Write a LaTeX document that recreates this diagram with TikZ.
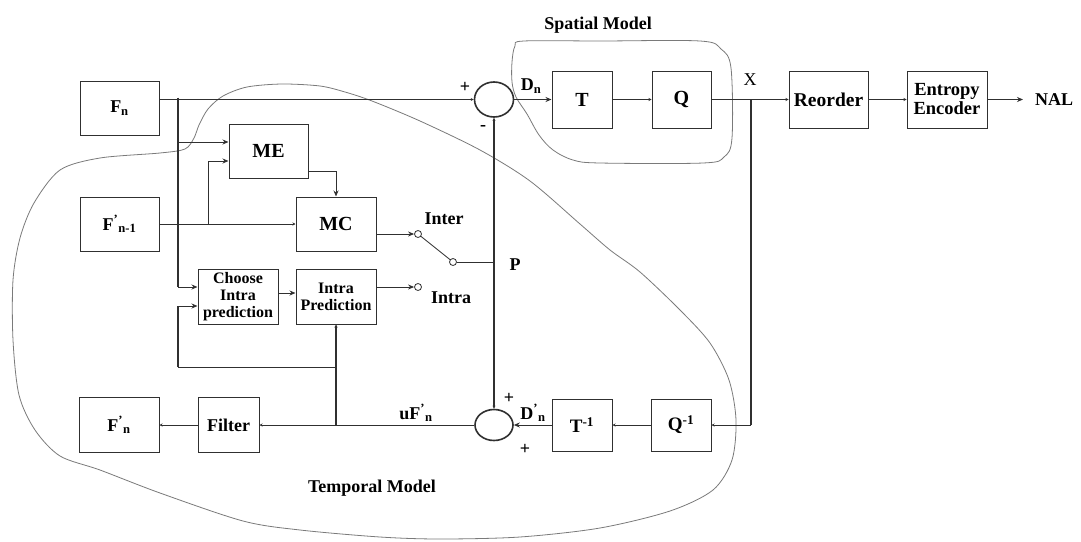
\documentclass[tikz,border=0pt]{standalone}
\usepackage{fontspec}
\setmainfont{Liberation Serif}
\usetikzlibrary{arrows.meta,shapes.geometric,calc}
\definecolor{lin}{HTML}{303030}
\definecolor{cont}{HTML}{7A7A7A}
\begin{document}
\begin{tikzpicture}[x=1pt,y=-1pt,
  box/.style={draw=lin,line width=1pt,inner sep=0pt,align=center,font=\bfseries\fontsize{18}{20}\selectfont},
  ln/.style={draw=lin,line width=1pt},
  thk/.style={draw=lin,line width=1.8pt},
  arr/.style={-{Stealth[length=6pt,width=5pt]}},
  sarr/.style={-{Stealth[length=3pt,width=3pt]}},
  sw/.style={circle,draw=lin,line width=0.8pt,minimum size=7pt,inner sep=0pt},
  sum/.style={ellipse,draw=lin,line width=1.6pt,inner sep=0pt},
  lbl/.style={font=\bfseries\fontsize{18}{20}\selectfont,inner sep=0pt},
  cont/.style={draw=cont,line width=0.8pt}
]
\fill[white] (0,0) rectangle (1081,541);
\useasboundingbox (0,0) rectangle (1081,541);

% contours
\draw[cont] plot[smooth cycle,tension=0.55] coordinates {
 (512,62) (515,46) (524,41) (600,41) (700,41) (721,49) (731,68) (732,138) (724,157) (703,163)
 (600,163) (573,160) (553,150) (539,135) (527,114) (516,97) (512,82)};
\draw[cont] plot[smooth cycle,tension=0.5] coordinates {
 (60,170) (100,158) (160,153) (185,149) (194,138) (199,125) (208,109) (223,96) (247,87) (282,84)
 (320,86) (345,92) (372,101) (420,121) (480,150) (530,181) (580,224) (610,250) (640,272)
 (680,310) (710,343) (729,380) (736,420) (732,460) (713,490) (670,511) (600,528) (520,537)
 (440,539) (380,537) (300,530) (243,521) (160,493) (100,470) (60,456) (35,430) (19,395)
 (13,340) (13,280) (20,238) (34,203)};

% boxes
\node[box,minimum width=79pt,minimum height=54pt] (Fn) at (119.5,108) {F\textsubscript{n}};
\node[box,minimum width=79pt,minimum height=54pt,font=\bfseries\fontsize{20}{22}\selectfont] (ME) at (268.5,151) {ME};
\node[box,minimum width=79pt,minimum height=54pt] (Fn1) at (119.5,224) {F\textsuperscript{'}\textsubscript{n-1}};
\node[box,minimum width=80pt,minimum height=54pt,font=\bfseries\fontsize{20}{22}\selectfont] (MC) at (336,224) {MC};
\node[box,minimum width=80pt,minimum height=55pt,font=\bfseries\fontsize{16}{17}\selectfont] (Choose) at (238,296.5) {Choose\\Intra\\prediction};
\node[box,minimum width=80pt,minimum height=55pt,font=\bfseries\fontsize{16}{17}\selectfont] (IntraP) at (336,296.5) {Intra\\Prediction};
\node[box,minimum width=80pt,minimum height=55pt] (Fnp) at (119,425) {F\textsuperscript{'}\textsubscript{n}};
\node[box,minimum width=61pt,minimum height=55pt] (Filter) at (228.5,425) {Filter};
\node[box,minimum width=60pt,minimum height=57pt,font=\bfseries\fontsize{20}{22}\selectfont] (T) at (582,99.5) {T};
\node[box,minimum width=59pt,minimum height=57pt,font=\bfseries\fontsize{20}{22}\selectfont] (Q) at (681.5,99.5) {Q};
\node[box,minimum width=79pt,minimum height=57pt,font=\bfseries\fontsize{19.5}{21}\selectfont] (Reorder) at (828.5,99.5) {Reorder};
\node[box,minimum width=80pt,minimum height=57pt,font=\bfseries\fontsize{18.5}{19}\selectfont] (Entropy) at (947,99.5) {Entropy\\Encoder};
\node[box,minimum width=60pt,minimum height=52pt,font=\bfseries\fontsize{19}{21}\selectfont] (Tinv) at (582,425) {T\textsuperscript{-1}};
\node[box,minimum width=60pt,minimum height=52pt,font=\bfseries\fontsize{19}{21}\selectfont] (Qinv) at (681,425) {Q\textsuperscript{-1}};
\node[lbl,anchor=west] (NAL) at (1035,99.5) {NAL};

% summing junctions
\node[sum,minimum width=39pt,minimum height=35pt] (sT) at (494,99.5) {};
\node[sum,minimum width=38pt,minimum height=31pt] (sB) at (494,425) {};

% switch
\node[sw] (cInter) at (418,234) {};
\node[sw] (cPivot) at (453,262) {};
\node[sw] (cIntra) at (418,287) {};

% coordinates
\coordinate (jA) at (178,99.5);
\coordinate (cA) at ($(Choose.west)+(0,-9.5)$);
\coordinate (cB) at ($(Choose.west)+(0,9.5)$);
\coordinate (mA) at ($(ME.west)+(0,-9)$);
\coordinate (mB) at ($(ME.west)+(0,10)$);
\coordinate (jB) at (208,224);
\coordinate (jC) at (IntraP.south |- Filter.east);
\coordinate (jD) at (336,367);
\coordinate (jE) at (178,367);
\coordinate (jX) at (751,99.5);
\coordinate (jP) at (cPivot -| sT.south);
\coordinate (nalIn) at ($(NAL.west)+(-12,0)$);

% connectors
\draw[ln,sarr] (Fn.east |- sT.west) -- (sT.west);
\draw[thk] ($(jA)+(0,-2)$) -- (jA |- cA);
\draw[ln,arr] (jA |- cA) -- (cA);
\draw[ln,arr] (jA |- mA) -- (mA);
\draw[ln,sarr] (Fn1.east) -- (MC.west);
\draw[ln,arr] (jB) |- (mB);
\draw[ln,arr] ($(ME.east)+(0,20)$) -| (MC.north);
\draw[ln,arr] ($(MC.east)+(0,10)$) -- (cInter);
\draw[ln,line width=0.8pt] (cInter) -- (cPivot);
\draw[ln] (cPivot) -- (jP);
\draw[ln,arr] ($(IntraP.east)+(0,-9.5)$) -- (cIntra);
\draw[ln,arr] ($(Choose.east)+(0,-3.5)$) -- ($(IntraP.west)+(0,-3.5)$);
\draw[thk,{Stealth[length=3pt,width=3pt]}-{Stealth[length=3pt,width=3pt]}] (sT.south) -- (sB.north);
\draw[ln,arr] (sT.east) -- (T.west);
\draw[ln,sarr] (T.east) -- (Q.west);
\draw[ln,sarr] (Q.east) -- (Reorder.west);
\draw[ln,sarr] (Reorder.east) -- (Entropy.west);
\draw[ln,arr] (Entropy.east) -- (nalIn);
\draw[thk] (jX) -- (jX |- Qinv.east);
\draw[ln,sarr] (jX |- Qinv.east) -- (Qinv.east);
\draw[ln,sarr] (Qinv.west) -- (Tinv.east);
\draw[ln,arr] (Tinv.west) -- (sB.east);
\draw[ln,sarr] (sB.west) -- (Filter.east);
\draw[ln,sarr] (Filter.west) -- (Fnp.east);
\draw[thk,sarr] (jC) -- (IntraP.south);
\draw[ln] (jD) -- (jE);
\draw[thk] (jE) -- (jE |- cB);
\draw[ln,arr] (jE |- cB) -- (cB);

% labels
\node[lbl] (pl1) at (465,87) {+};
\node[lbl] (mi1) at (483,128) {-};
\node[lbl] (pl2) at (509,398) {+};
\node[lbl] (pl3) at (525,449) {+};
\node[lbl] (Dn) at (531,86) {D\textsubscript{n}};
\node[lbl] (Dnp) at (533,413) {D\textsuperscript{'}\textsubscript{n}};
\node[lbl,font=\fontsize{18}{20}\selectfont] (Xl) at (750,80) {X};
\node[lbl] (Inter) at (444,219) {Inter};
\node[lbl] (Intra) at (451,298) {Intra};
\node[lbl] (Pl) at (515,265) {P};
\node[lbl] (uFn) at (416,413) {uF\textsuperscript{'}\textsubscript{n}};
\node[lbl] (SM) at (598,25) {Spatial Model};
\node[lbl] (TM) at (372,488) {Temporal Model};
\end{tikzpicture}
\end{document}
